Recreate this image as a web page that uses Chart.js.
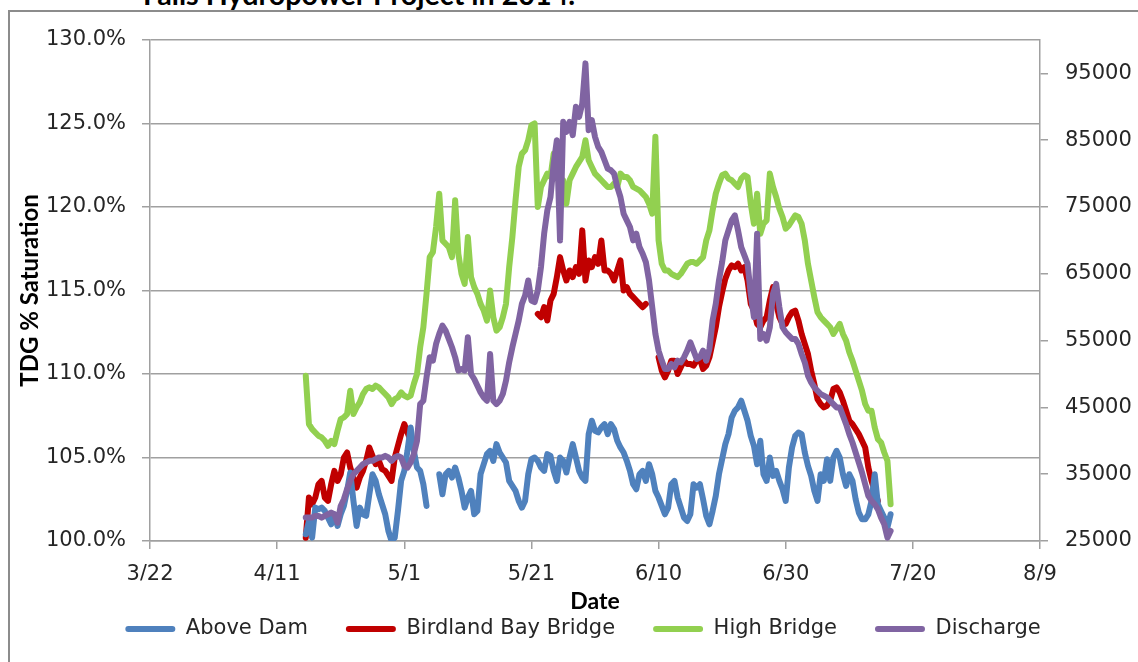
<!DOCTYPE html>
<html><head><meta charset="utf-8">
<script src="https://cdn.jsdelivr.net/npm/chart.js@4.4.1/dist/chart.umd.min.js"></script>
<style>
html,body{margin:0;padding:0;background:#fff;overflow:hidden;width:1138px;height:662px;}
#frame{position:absolute;left:8px;top:10px;width:1200px;height:720px;border:2px solid #8c8c8c;box-sizing:border-box;}
#title{position:absolute;left:143px;top:-17.6px;font-family:Lato,sans-serif;font-weight:bold;font-size:28.7px;line-height:24px;color:#000;white-space:nowrap;}
#wrap{position:absolute;left:0;top:0;width:1138px;height:662px;}
</style></head><body>
<div id="frame"></div>
<div id="title">Falls Hydropower Project in 2014.</div>
<div id="wrap"><canvas id="c"></canvas></div>
<script>
// sampling: every half day, starting 24.5 days after 3/22/2014
const firstDay = 24.5;
const stepDays = 0.5;

const aboveDam = [
  100.4,101.2,100.2,102.0,101.9,102.0,101.8,101.4,101.0,101.6,
  100.9,101.6,102.1,103.0,104.1,102.4,100.9,102.0,101.6,101.5,
  102.8,104.0,103.6,102.8,102.2,101.6,100.6,100.0,100.2,101.8,
  103.6,104.2,105.4,106.8,105.4,104.4,104.2,103.4,102.1,null,
  null,null,104.0,102.8,104.0,104.2,103.8,104.4,103.8,103.0,
  102.0,102.6,103.0,101.6,101.8,104.0,104.6,105.2,105.4,104.8,
  105.8,105.3,105.0,104.7,103.6,103.3,103.0,102.4,102.0,102.4,
  104.0,104.9,105.0,104.8,104.4,104.2,105.2,105.1,104.2,103.6,
  105.0,104.8,104.1,105.0,105.8,105.0,104.2,103.8,103.6,106.4,
  107.2,106.6,106.5,106.8,107.0,106.4,107.0,106.7,106.0,105.6,
  105.3,104.8,104.2,103.4,103.1,104.0,104.2,103.6,104.6,104.0,
  103.0,102.6,102.1,101.6,102.0,103.4,103.6,102.6,102.0,101.4,
  101.2,101.6,103.4,103.2,103.4,102.5,101.5,101.0,101.8,102.7,
  104.0,104.9,105.8,106.4,107.4,107.8,108.0,108.4,107.8,107.2,
  106.3,105.7,104.6,106.0,104.0,103.6,105.0,103.9,104.2,103.6,
  103.1,102.4,104.4,105.6,106.3,106.5,106.4,105.3,104.5,103.9,
  103.0,102.4,104.0,103.6,104.9,103.6,105.0,105.4,105.0,104.0,
  103.3,104.0,103.6,102.5,101.7,101.3,101.3,101.6,102.4,104.0,
  102.2,101.8,101.4,100.8,101.6
];

const birdlandBayBridge = [
  100.2,102.6,102.2,102.6,103.4,103.6,102.6,102.4,103.4,104.2,
  103.6,104.0,105.0,105.3,104.4,103.8,103.2,103.8,104.2,104.8,
  105.6,105.1,104.6,104.8,104.3,104.2,103.9,103.6,105.0,105.7,
  106.4,107.0,106.5,106.0,null,null,null,null,null,null,
  null,null,null,null,null,null,null,null,null,null,
  null,null,null,null,null,null,null,null,null,null,
  null,null,null,null,null,null,null,null,null,null,
  null,null,null,113.6,113.4,114.0,113.2,114.4,114.8,115.8,
  117.0,116.2,115.6,116.2,115.8,116.4,116.0,118.6,115.6,116.8,
  116.4,117.0,116.6,118.0,116.2,116.2,116.0,115.6,116.2,116.8,
  115.0,115.2,114.8,114.6,114.4,114.2,114.0,114.2,null,null,
  null,111.0,110.2,109.8,110.2,110.8,110.8,110.0,110.4,110.8,
  110.6,110.6,110.5,110.8,110.9,110.3,110.5,111.0,111.9,112.8,
  114.0,114.9,115.7,116.2,116.5,116.4,116.6,116.2,116.4,115.6,
  114.2,113.8,113.0,112.8,113.2,113.4,114.4,115.2,114.2,113.4,
  113.0,113.0,113.4,113.7,113.8,113.2,112.4,111.8,111.2,110.2,
  109.4,108.5,108.2,108.0,108.1,108.4,109.1,109.2,108.9,108.4,
  107.8,107.2,107.0,106.7,106.4,106.0,105.6,104.4,103.6,103.0,
  102.4,null,null,null,null
];

const highBridge = [
  109.9,107.0,106.7,106.5,106.3,106.2,106.0,105.7,106.0,105.8,
  106.6,107.3,107.4,107.6,109.0,107.6,108.0,108.3,108.8,109.1,
  109.2,109.1,109.3,109.2,109.0,108.8,108.6,108.2,108.5,108.6,
  108.9,108.7,108.6,108.7,109.4,110.0,111.6,112.8,114.8,117.0,
  117.3,118.8,120.8,118.0,117.8,117.6,117.0,120.4,117.2,116.0,
  115.4,118.2,115.8,115.2,114.8,114.2,113.8,113.2,115.0,113.4,
  112.6,112.8,113.4,114.2,116.4,118.2,120.4,122.4,123.2,123.4,
  124.0,124.9,125.0,120.0,121.2,121.6,122.0,121.8,123.2,122.0,
  121.2,121.6,120.2,121.6,122.0,122.4,122.7,123.0,124.0,122.8,
  122.4,122.0,121.8,121.6,121.4,121.2,121.2,121.4,121.2,122.0,
  121.8,121.8,121.6,121.2,121.1,121.0,120.8,120.6,120.2,119.6,
  124.2,118.0,116.6,116.2,116.2,116.0,115.9,115.8,116.0,116.3,
  116.6,116.7,116.7,116.6,116.8,117.0,118.0,118.6,119.8,120.8,
  121.4,121.9,122.0,121.7,121.6,121.4,121.2,121.7,121.9,121.8,
  120.2,119.0,120.8,118.4,119.0,119.2,122.0,121.2,120.6,119.9,
  119.4,118.7,118.9,119.2,119.5,119.4,119.0,118.0,116.6,115.6,
  114.6,113.7,113.4,113.2,113.0,112.8,112.4,112.7,113.0,112.4,
  112.0,111.3,110.8,110.2,109.6,109.0,108.2,107.8,107.8,106.8,
  106.1,105.9,105.3,104.8,102.2
];

const discharge = [
  28500,28500,28500,28750,28750,28500,28750,29000,29250,29000,
  27750,30250,31250,32750,34000,35000,35500,36000,36500,36750,
  37000,37000,37250,37500,37500,37750,37500,37000,37500,37750,
  37500,36250,36000,36750,38000,40000,45500,46000,49500,52500,
  52000,54500,56000,57250,56500,55250,54000,52500,50500,50750,
  50500,55500,50000,49250,48250,47250,46500,46000,53000,46000,
  45500,46000,47000,49000,51750,54000,56000,58000,60500,61750,
  64000,61000,60750,62500,66000,71000,74500,76500,81500,85000,
  70000,87750,86250,87750,85750,90000,88500,90500,96500,86500,
  88000,85500,84000,83250,82000,80750,80500,80000,78000,76500,
  74000,73000,72000,70000,71000,69000,68000,66750,64000,60000,
  56000,53500,52000,50750,50750,51500,51000,52000,51750,52500,
  53500,54750,53500,52250,52500,53500,52000,53750,58000,60500,
  64000,66750,70000,71500,73000,73750,71500,69000,67750,66500,
  62000,58500,71000,55250,56000,55000,57000,62000,63500,60000,
  57000,56250,55750,55250,55250,54500,53000,51750,49750,48750,
  48000,47500,47000,46750,46500,46000,45500,45000,45000,43750,
  42500,41000,39750,38250,36750,35250,33500,31750,31000,30500,
  29750,28500,27500,25500,26500
];

// axis ticks (x values are days after 3/22/2014)
const xTickValues = [0, 20, 40, 60, 80, 100, 120, 140];
const xTickLabels = ['3/22', '4/11', '5/1', '5/21', '6/10', '6/30', '7/20', '8/9'];
const tdgTickValues = [100, 105, 110, 115, 120, 125, 130];
const tdgTickLabels = ['100.0%', '105.0%', '110.0%', '115.0%', '120.0%', '125.0%', '130.0%'];
const dischargeTickValues = [25000, 35000, 45000, 55000, 65000, 75000, 85000, 95000];
const dischargeTickLabels = ['25000', '35000', '45000', '55000', '65000', '75000', '85000', '95000'];

const dayOffsets = aboveDam.map((_, i) => firstDay + i * stepDays);

const tickFont = { family: "'DejaVu Sans', sans-serif", size: 21 };
const titleFont = { family: "Lato, sans-serif", size: 24, weight: 'bold' };
const gridColor = '#a0a0a0';
const textColor = '#262626';
const lineStyle = { borderWidth: 6, pointRadius: 0, pointHoverRadius: 0, tension: 0,
                    borderJoinStyle: 'round', borderCapStyle: 'round' };

new Chart(document.getElementById('c'), {
  type: 'line',
  data: {
    labels: dayOffsets,
    datasets: [
      Object.assign({ label: 'Above Dam', data: aboveDam, borderColor: '#4F81BD', backgroundColor: '#4F81BD', yAxisID: 'y', order: 2 }, lineStyle),
      Object.assign({ label: 'Birdland Bay Bridge', data: birdlandBayBridge, borderColor: '#C00000', backgroundColor: '#C00000', yAxisID: 'y', order: 3 }, lineStyle),
      Object.assign({ label: 'High Bridge', data: highBridge, borderColor: '#92D050', backgroundColor: '#92D050', yAxisID: 'y', order: 1 }, lineStyle),
      Object.assign({ label: 'Discharge', data: discharge, borderColor: '#8064A2', backgroundColor: '#8064A2', yAxisID: 'y2', order: 0 }, lineStyle)
    ]
  },
  options: {
    responsive: true,
    maintainAspectRatio: false,
    animation: false,
    layout: { padding: { left: 0, right: -28, top: 40, bottom: 12.5 } },
    scales: {
      x: {
        type: 'linear', min: 0, max: 140,
        afterBuildTicks: s => { s.ticks = xTickValues.map(v => ({ value: v })); },
        afterFit: s => { s.height = 39.5; },
        ticks: { autoSkip: false, maxRotation: 0, font: tickFont, color: textColor, padding: 13,
                 callback: (v, i) => xTickLabels[i] },
        grid: { drawOnChartArea: false, drawTicks: true, tickLength: 8, color: gridColor, lineWidth: 1.5 },
        border: { display: true, color: gridColor, width: 1.5 },
        title: { display: true, text: 'Date', font: { family: 'Lato, sans-serif', size: 23, weight: 'bold' }, color: '#000',
                 padding: { top: 0, bottom: -35 } }
      },
      y: {
        position: 'left', min: 100, max: 130,
        afterBuildTicks: s => { s.ticks = tdgTickValues.map(v => ({ value: v })); },
        afterFit: s => { s.width = 150; },
        ticks: { font: tickFont, color: textColor, padding: 16, callback: (v, i) => tdgTickLabels[i] },
        grid: { color: gridColor, lineWidth: 1.5, tickLength: 8 },
        border: { display: true, color: gridColor, width: 1.5 },
        title: { display: true, text: 'TDG % Saturation', font: titleFont, color: '#000', padding: { top: 16, bottom: 0 } }
      },
      y2: {
        position: 'right', min: 25000, max: 100000,
        afterBuildTicks: s => { s.ticks = dischargeTickValues.map(v => ({ value: v })); },
        afterFit: s => { s.width = 126; },
        ticks: { font: tickFont, color: textColor, padding: 17, callback: (v, i) => dischargeTickLabels[i] },
        grid: { drawOnChartArea: false, tickLength: 8, color: gridColor, lineWidth: 1.5 },
        border: { display: true, color: gridColor, width: 1.5 }
      }
    },
    plugins: {
      tooltip: { enabled: false },
      legend: {
        position: 'bottom',
        labels: {
          font: tickFont, color: textColor, boxWidth: 50, boxHeight: 6, padding: 38,
          useBorderRadius: true, borderRadius: 3,
          sort: (a, b) => a.datasetIndex - b.datasetIndex,
          generateLabels: chart => Chart.defaults.plugins.legend.labels.generateLabels(chart)
            .map(l => Object.assign(l, { lineWidth: 0, fillStyle: l.strokeStyle }))
        }
      }
    }
  }
});
</script>
</body></html>
